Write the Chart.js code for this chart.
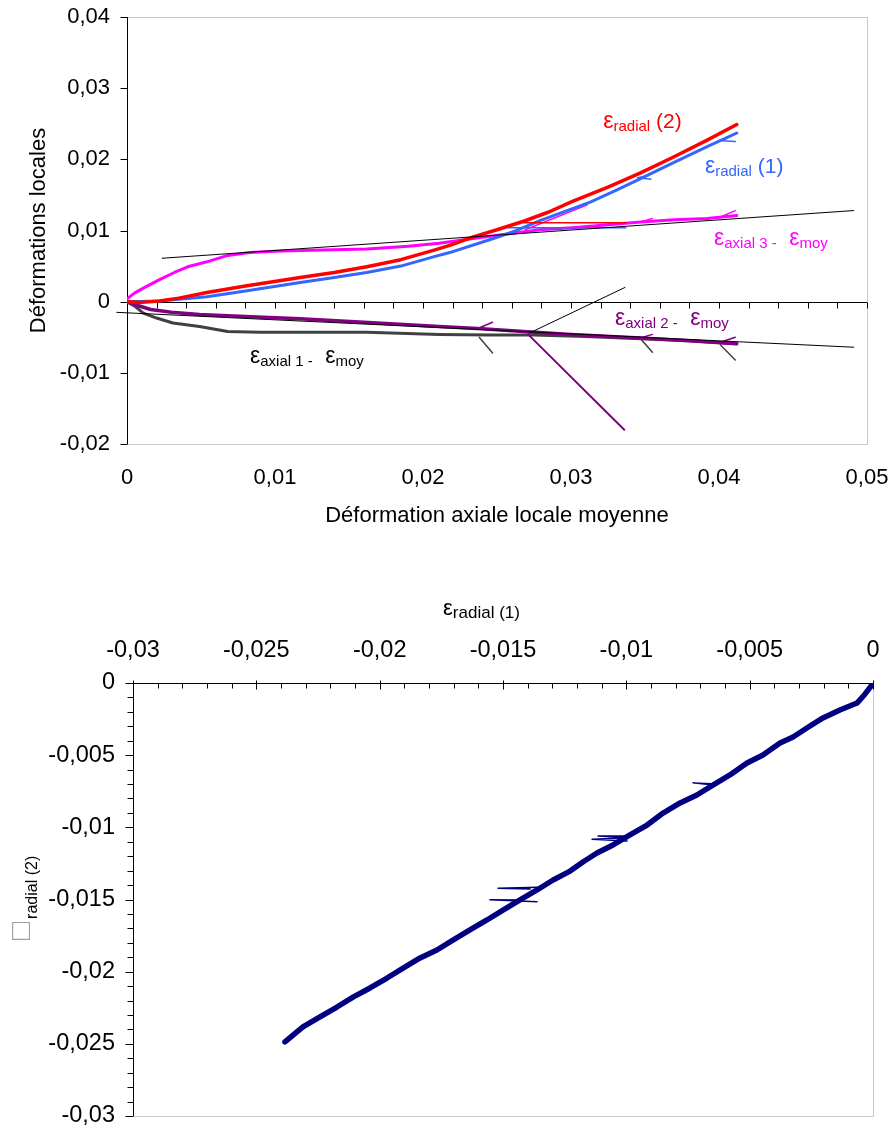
<!DOCTYPE html>
<html>
<head>
<meta charset="utf-8">
<script src="https://cdn.jsdelivr.net/npm/chart.js@4.4.1/dist/chart.umd.min.js"></script>
<style>
  html, body { margin: 0; background: #fff; overflow: hidden; }
  .box { position: absolute; left: 0; width: 889px; }
</style>
</head>
<body>
<div class="box" style="top:0;height:560px"><canvas id="topChart"></canvas></div>
<div class="box" style="top:560px;height:572px"><canvas id="bottomChart"></canvas></div>
<script>
// ---- top chart: local strains vs mean local axial strain ----
const topXTicks = [0, 0.01, 0.02, 0.03, 0.04, 0.05];
const topYTicks = [-0.02, -0.01, 0, 0.01, 0.02, 0.03, 0.04];

const radial2 = [[0, 0], [0.001, -0.0001], [0.0022, 0.0001], [0.0035, 0.0005], [0.0054, 0.0013], [0.008, 0.0022],
  [0.0117, 0.0034], [0.014, 0.0041], [0.0162, 0.0049], [0.0185, 0.0059], [0.0207, 0.0072], [0.0218, 0.0079],
  [0.0234, 0.0091], [0.025, 0.0101], [0.0268, 0.0113], [0.0285, 0.0126], [0.0301, 0.0141], [0.0325, 0.0161],
  [0.0347, 0.0181], [0.037, 0.0204], [0.0392, 0.0227], [0.0412, 0.0249]];
const radial1 = [[0, 0], [0.0022, 0.0001], [0.0054, 0.0007], [0.008, 0.0015], [0.0117, 0.0027], [0.014, 0.0034],
  [0.0162, 0.0041], [0.0185, 0.005], [0.0207, 0.0063], [0.0218, 0.0069], [0.0245, 0.0087], [0.0262, 0.0099],
  [0.0279, 0.0114], [0.0296, 0.0127], [0.0313, 0.014], [0.033, 0.0156], [0.0347, 0.0173], [0.037, 0.0196],
  [0.0392, 0.0218], [0.0412, 0.0237]];
const axial3 = [[0, 0.0004], [0.0005, 0.0012], [0.0012, 0.002], [0.0022, 0.0031], [0.0032, 0.0041], [0.0041, 0.0049],
  [0.0054, 0.0056], [0.0068, 0.0065], [0.0083, 0.0069], [0.01, 0.0071], [0.0117, 0.0072], [0.014, 0.0073],
  [0.0162, 0.0074], [0.019, 0.0078], [0.0211, 0.0082], [0.0235, 0.0089], [0.0257, 0.0095], [0.0279, 0.0101],
  [0.0301, 0.0104], [0.0325, 0.0108], [0.0347, 0.0112], [0.037, 0.0115], [0.0392, 0.0117], [0.0412, 0.0121]];
const axial2 = [[0, 0], [0.0005, -0.0004], [0.0016, -0.0011], [0.003, -0.0015], [0.0049, -0.0018], [0.008, -0.0021],
  [0.0117, -0.0024], [0.016, -0.0029], [0.0211, -0.0035], [0.024, -0.0038], [0.0268, -0.0042], [0.03, -0.0046],
  [0.0347, -0.0051], [0.038, -0.0055], [0.0412, -0.0059]];
const axial1 = [[0, 0], [0.0005, -0.0006], [0.0011, -0.0016], [0.002, -0.0023], [0.0031, -0.003], [0.0049, -0.0035],
  [0.0068, -0.0042], [0.009, -0.0043], [0.0117, -0.0043], [0.0162, -0.0043], [0.0211, -0.0046], [0.0245, -0.0047],
  [0.0275, -0.0047], [0.031, -0.0049], [0.0347, -0.0052], [0.038, -0.0055], [0.0412, -0.0059]];

// straight fitted lines
const fitUpper = [[0.00236, 0.0061], [0.0491, 0.0128]];
const fitLower = [[-0.0007, -0.0015], [0.0491, -0.0064]];
const fitCross = [[0.0272, -0.0044], [0.03365, 0.002]];
const purpleDrop = [[0.0271, -0.0046], [0.0336, -0.018]];

// unloading glitches
const redFlat = [[0.0268, 0.0111], [0.0337, 0.0111]];
const blueFlat = [[0.0257, 0.0104], [0.0337, 0.0104]];
const blueHooks = [[[0.0412, 0.0237], [0.0402, 0.0226], [0.0411, 0.0225]], [[0.0352, 0.0177], [0.0345, 0.0174], [0.0354, 0.0172]]];
const magentaSlant = [[0.0269, 0.0101], [0.0311, 0.0136]];
const magentaHooks = [[[0.0401, 0.0119], [0.0411, 0.0128]], [[0.0347, 0.0112], [0.0355, 0.0117]]];
const purpleHooks = [[[0.0239, -0.0036], [0.0247, -0.0029]], [[0.0401, -0.0057], [0.0411, -0.005]], [[0.0347, -0.0051], [0.0355, -0.0046]]];
const greyHooks = [[[0.0238, -0.005], [0.0247, -0.0072]], [[0.0347, -0.0052], [0.0355, -0.0071]], [[0.0401, -0.0061], [0.0411, -0.0082]]];

// ---- bottom chart: radial (2) vs radial (1) ----
const bottomXTicks = [-0.03, -0.025, -0.02, -0.015, -0.01, -0.005, 0];
const bottomYTicks = [-0.03, -0.025, -0.02, -0.015, -0.01, -0.005, 0];

const radial12 = [[0, 0], [-0.00008, -0.00021], [-0.00032, -0.00076], [-0.00065, -0.00139], [-0.00134, -0.00187],
  [-0.00203, -0.00242], [-0.00268, -0.00312], [-0.00324, -0.00374], [-0.00377, -0.00416], [-0.00446, -0.00499],
  [-0.00511, -0.00554], [-0.0058, -0.00637], [-0.00649, -0.00707], [-0.00714, -0.00776], [-0.00782, -0.00831],
  [-0.00851, -0.00901], [-0.00916, -0.00984], [-0.00985, -0.01053], [-0.01054, -0.01122], [-0.01119, -0.01178],
  [-0.01176, -0.0124], [-0.01228, -0.01303], [-0.01297, -0.01365], [-0.01362, -0.01434], [-0.01431, -0.01503],
  [-0.015, -0.01573], [-0.01565, -0.01642], [-0.01634, -0.01711], [-0.01703, -0.01781], [-0.01768, -0.0185],
  [-0.01836, -0.01905], [-0.01905, -0.01975], [-0.0197, -0.02044], [-0.02039, -0.02113], [-0.02108, -0.02176],
  [-0.02173, -0.02245], [-0.02242, -0.02314], [-0.02311, -0.02383], [-0.02384, -0.02487]];
const radialSpikes = [
  [[-0.00649, -0.00707], [-0.0073, -0.00692], [-0.00655, -0.00698]],
  [[-0.00997, -0.0106], [-0.01115, -0.0106], [-0.0099, -0.01072], [-0.01139, -0.01083], [-0.00997, -0.01095]],
  [[-0.01358, -0.01415], [-0.0152, -0.01422], [-0.0139, -0.01428]],
  [[-0.01431, -0.01503], [-0.01553, -0.01501], [-0.01362, -0.01515]]
];

Chart.defaults.font.family = "'Liberation Sans', Arial, sans-serif";
Chart.defaults.color = "#000";

const FONT = "'Liberation Sans', Arial, sans-serif";
const toComma = (v) => String(Math.round(v * 1000) / 1000).replace(".", ",");
const pts = (arr) => arr.map((p) => ({ x: p[0], y: p[1] }));

// fixed axis box size, no extra label padding (plot area is set by layout.padding)
const fixSize = (prop, size) => (s) => {
  s[prop] = size;
  s.paddingTop = s.paddingBottom = s.paddingLeft = s.paddingRight = 0;
};

function line(data, color, width, extra) {
  return Object.assign({
    data: pts(data),
    borderColor: color,
    borderWidth: width,
    pointRadius: 0,
    tension: 0,
    borderJoinStyle: "round",
    borderCapStyle: "round",
  }, extra || {});
}

// frame + axes crossing at a given value, with major / minor tick marks
const axesLines = {
  id: "axesLines",
  beforeDatasetsDraw(chart, args, opts) {
    const { ctx, chartArea: a } = chart;
    ctx.save();
    ctx.lineWidth = 1;
    ctx.strokeStyle = opts.frameColor;
    ctx.strokeRect(a.left + 0.5, a.top + 0.5, a.right - a.left, a.bottom - a.top);
    ctx.strokeStyle = "#000";
    opts.axes.forEach((ax) => {
      const s = chart.scales[ax.scale];
      const o = chart.scales[ax.scale === "x" ? "y" : "x"];
      const base = Math.round(o.getPixelForValue(ax.at)) + 0.5;
      const n = Math.round((s.max - s.min) / ax.step);
      ctx.beginPath();
      if (s.isHorizontal()) {
        ctx.moveTo(s.left, base);
        ctx.lineTo(s.right, base);
      } else {
        ctx.moveTo(base, s.top);
        ctx.lineTo(base, s.bottom);
      }
      for (let i = 0; i <= n; i++) {
        const v = s.min + i * ax.step;
        const major = Math.abs(v / ax.major - Math.round(v / ax.major)) < 1e-6;
        const [t0, t1] = major ? ax.majorLen : ax.minorLen;
        const p = Math.round(s.getPixelForValue(v)) + 0.5;
        if (s.isHorizontal()) {
          ctx.moveTo(p, base + t0);
          ctx.lineTo(p, base + t1);
        } else {
          ctx.moveTo(base + t0, p);
          ctx.lineTo(base + t1, p);
        }
      }
      ctx.stroke();
    });
    ctx.restore();
  },
};

// text with subscripts (epsilon labels)
const richText = {
  id: "richText",
  afterDatasetsDraw(chart, args, opts) {
    const ctx = chart.ctx;
    ctx.save();
    ctx.textBaseline = "alphabetic";
    ctx.textAlign = "left";
    opts.items.forEach((it) => {
      const [x0, y0] = it.at(chart);
      ctx.save();
      ctx.translate(x0, y0);
      if (it.rotate) ctx.rotate(it.rotate);
      let x = 0;
      it.parts.forEach((p) => {
        ctx.font = p.size + "px " + (p.family || FONT);
        ctx.fillStyle = p.color || it.color;
        x += p.dx || 0;
        ctx.fillText(p.t, x, p.dy || 0);
        x += ctx.measureText(p.t).width;
      });
      ctx.restore();
    });
    ctx.restore();
  },
};

const eps = (size) => ({ t: "\u03b5", size: size || 23 });
const sub = (t) => ({ t: t, size: 15, dy: 3 });
const onData = (x, y) => (c) => [c.scales.x.getPixelForValue(x), c.scales.y.getPixelForValue(y)];

const topDatasets = [
  line(fitUpper, "#000", 1),
  line(fitLower, "#000", 1, { clip: false }),
  line(fitCross, "#000", 1),
  line(radial2, "#ff0000", 3.5),
  line(redFlat, "#ff0000", 1.5),
  line(radial1, "#3366ff", 3),
  line(blueFlat, "#3366ff", 1.5),
  ...blueHooks.map((h) => line(h, "#3366ff", 1.5)),
  line(axial3, "#ff00ff", 3),
  line(magentaSlant, "#ff00ff", 1.5),
  ...magentaHooks.map((h) => line(h, "#ff00ff", 1.5)),
  line(purpleDrop, "#800080", 2),
  line(axial2, "#800080", 3.5),
  ...purpleHooks.map((h) => line(h, "#800080", 1.5)),
  line(axial1, "#404040", 3),
  ...greyHooks.map((h) => line(h, "#404040", 1.5)),
];

new Chart(document.getElementById("topChart"), {
  type: "line",
  data: { datasets: topDatasets },
  plugins: [axesLines, richText],
  options: {
    responsive: true,
    maintainAspectRatio: false,
    animation: false,
    devicePixelRatio: 1,
    layout: { padding: { left: 0, top: 17, right: 22, bottom: 0 } },
    scales: {
      x: {
        type: "linear",
        position: "bottom",
        min: 0,
        max: 0.05,
        afterBuildTicks: (s) => { s.ticks = topXTicks.map((v) => ({ value: v })); },
        afterFit: fixSize("height", 116),
        grid: { display: false, drawTicks: false },
        border: { display: false },
        ticks: { font: { size: 22 }, padding: 21, maxRotation: 0, autoSkip: false, callback: toComma },
        title: { display: true, text: "Déformation axiale locale moyenne", font: { size: 22 }, padding: { top: 0, bottom: 31 } },
      },
      y: {
        type: "linear",
        min: -0.02,
        max: 0.04,
        afterBuildTicks: (s) => { s.ticks = topYTicks.map((v) => ({ value: v })); },
        afterFit: fixSize("width", 127),
        grid: { display: false, drawTicks: false },
        border: { display: false },
        ticks: { font: { size: 22 }, padding: 17, autoSkip: false, callback: toComma },
        title: { display: true, text: "Déformations locales", font: { size: 22 }, padding: { top: 26, bottom: 0 } },
      },
    },
    plugins: {
      legend: { display: false },
      tooltip: { enabled: false },
      axesLines: {
        frameColor: "#c8c8c8",
        axes: [
          { scale: "x", at: 0, step: 0.002, major: 0.01, minorLen: [0, 6], majorLen: [0, 6] },
          { scale: "y", at: 0, step: 0.01, major: 0.01, minorLen: [-7, 0], majorLen: [-7, 0] },
        ],
      },
      richText: {
        items: [
          { at: onData(0.03218, 0.0244), color: "#ff0000", parts: [eps(), sub("radial"), { t: " (2)", size: 21 }] },
          { at: onData(0.03905, 0.01805), color: "#3366ff", parts: [eps(), sub("radial"), { t: " (1)", size: 21 }] },
          { at: onData(0.03966, 0.00801), color: "#ff00ff", parts: [eps(), sub("axial 3 -   "), eps(), sub("moy")] },
          { at: onData(0.03297, -0.00323), color: "#800080", parts: [eps(), sub("axial 2 -   "), eps(), sub("moy")] },
          { at: onData(0.00831, -0.00861), color: "#000", parts: [eps(), sub("axial 1 -   "), eps(), sub("moy")] },
        ],
      },
    },
  },
});

const bottomDatasets = [
  ...radialSpikes.map((s) => line(s, "#000080", 1.5)),
  line(radial12, "#000080", 5.5),
];

new Chart(document.getElementById("bottomChart"), {
  type: "line",
  data: { datasets: bottomDatasets },
  plugins: [axesLines, richText],
  options: {
    responsive: true,
    maintainAspectRatio: false,
    animation: false,
    devicePixelRatio: 1,
    layout: { padding: { left: 0, top: 0, right: 16, bottom: 16 } },
    scales: {
      x: {
        type: "linear",
        position: "top",
        min: -0.03,
        max: 0,
        afterBuildTicks: (s) => { s.ticks = bottomXTicks.map((v) => ({ value: v })); },
        afterFit: fixSize("height", 123),
        grid: { display: false, drawTicks: false },
        border: { display: false },
        ticks: { font: { size: 23.5 }, padding: 18, maxRotation: 0, autoSkip: false, callback: toComma },
      },
      y: {
        type: "linear",
        min: -0.03,
        max: 0,
        afterBuildTicks: (s) => { s.ticks = bottomYTicks.map((v) => ({ value: v })); },
        afterFit: fixSize("width", 133),
        grid: { display: false, drawTicks: false },
        border: { display: false },
        ticks: { font: { size: 23.5 }, padding: 18, autoSkip: false, callback: toComma },
      },
    },
    plugins: {
      legend: { display: false },
      tooltip: { enabled: false },
      axesLines: {
        frameColor: "#c8c8c8",
        axes: [
          { scale: "x", at: 0, step: 0.001, major: 0.005, minorLen: [0, 5], majorLen: [-3, 6] },
          { scale: "y", at: -0.03, step: 0.001, major: 0.005, minorLen: [-6, 0], majorLen: [-8, 0] },
        ],
      },
      richText: {
        items: [
          { at: (c) => [c.scales.x.getPixelForValue(-0.01743), c.chartArea.top - 68], color: "#000",
            parts: [eps(22), { t: "radial (1)", size: 17, dy: 3 }] },
          { at: (c) => [30, c.chartArea.top + 257], rotate: -Math.PI / 2, color: "#000",
            parts: [{ t: "\u25a1", size: 30, color: "#a0a0a0" }, { t: "radial (2)", size: 16, dy: 7, dx: 3 }] },
        ],
      },
    },
  },
});
</script>
</body>
</html>
